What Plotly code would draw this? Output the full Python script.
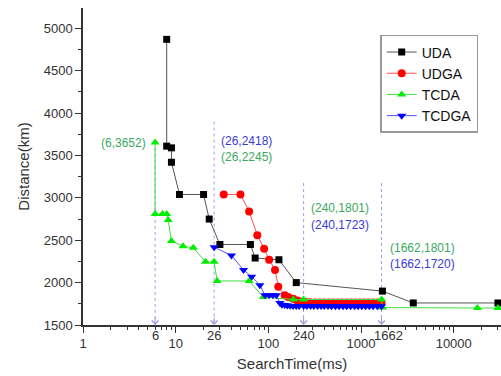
import math
import plotly.graph_objects as go

# ---------------- data ----------------
uda_x = [8, 8, 9, 9, 11, 20, 23, 30, 64, 72, 130, 200, 1700, 3660, 30000]
uda_y = [4870, 3610, 3590, 3420, 3040, 3040, 2750, 2450, 2450, 2290, 2270, 2000, 1900, 1760, 1760]

udga_x = [33, 50, 62, 76, 90, 102, 118, 128, 150, 164, 185, 205, 225, 250, 280, 320, 360,
          400, 450, 500, 560, 620, 700, 780, 870, 970, 1080, 1200, 1340, 1500, 1662]
udga_y = [3040, 3040, 2840, 2560, 2400, 2270, 2150, 1950, 1850, 1830, 1810, 1790, 1775, 1770,
          1768, 1766, 1765, 1765, 1765, 1765, 1765, 1765, 1765, 1765, 1765, 1765, 1765, 1765,
          1765, 1765, 1765]

tcda_x = [6, 6, 7.2, 8, 8.3, 9, 12, 15.5, 21, 26, 28, 62, 88, 186, 240, 1662, 1700, 18000, 30000]
tcda_y = [3652, 2810, 2810, 2810, 2740, 2490, 2430, 2410, 2245, 2245, 2020, 2020, 1830, 1801,
          1801, 1801, 1705, 1700, 1700]

tcdga_x = [26, 40, 54, 66, 81, 92, 102, 112, 122, 133, 140, 150, 160, 172, 185, 200, 215, 240,
           260, 285, 310, 340, 370, 400, 440, 480, 530, 580, 640, 700, 770, 850, 930, 1020,
           1120, 1230, 1350, 1500, 1662]
tcdga_y = [2418, 2320, 2150, 2070, 1970, 1850, 1850, 1850, 1850, 1760, 1740, 1735, 1730, 1728,
           1725, 1725, 1724, 1723, 1723, 1723, 1723, 1723, 1723, 1723, 1723, 1722, 1722, 1722,
           1722, 1721, 1721, 1721, 1721, 1720, 1720, 1720, 1720, 1720, 1720]

# reference markers (search time values) and the top of their dotted guide lines
mark_x = [6, 26, 240, 1662]
mark_top = [3590, 3900, 3175, 3175]

# point labels
label_text = ["(6,3652)", "(26,2418)", "(26,2245)", "(240,1801)", "(240,1723)",
              "(1662,1801)", "(1662,1720)"]
label_at = [6, 26, 26, 240, 240, 1662, 1662]
label_kind = ["TCDA", "TCDGA", "TCDA", "TCDA", "TCDGA", "TCDA", "TCDGA"]

x_ticks = [1, 10, 100, 1000, 10000]
y_ticks = [1500, 2000, 2500, 3000, 3500, 4000, 4500, 5000]

# ---------------- styling ----------------
FONT = "Liberation Sans, Arial, sans-serif"
AX = "#333333"
GUIDE = "#a898e0"
TXT_GREEN = "#3aa860"
TXT_BLUE = "#3a3ad8"

fig = go.Figure()

# dotted guide lines
for mx, top in zip(mark_x, mark_top):
    fig.add_trace(go.Scatter(x=[mx, mx], y=[top, y_ticks[0]], mode="lines",
                             line=dict(color=GUIDE, width=1, dash="dot"),
                             showlegend=False, hoverinfo="skip"))

series = [
    ("UDA", uda_x, uda_y, "#000000", "#555555", "square", 7),
    ("UDGA", udga_x, udga_y, "#ff0000", "#ff5050", "circle", 8),
    ("TCDA", tcda_x, tcda_y, "#00ee00", "#40e040", "triangle-up", 8),
    ("TCDGA", tcdga_x, tcdga_y, "#0000ff", "#5050ff", "triangle-down", 8),
]
for name, xs, ys, mc, lc, sym, sz in series:
    fig.add_trace(go.Scatter(x=xs, y=ys, name=name, mode="lines+markers",
                             line=dict(color=lc, width=1),
                             marker=dict(color=mc, symbol=sym, size=sz, line=dict(width=0))))

annotations = []
# arrow heads at the bottom of the guides
for mx in mark_x:
    annotations.append(dict(x=math.log10(mx), y=y_ticks[0], xref="x", yref="y",
                            ax=0, ay=-9, showarrow=True, arrowhead=4, arrowsize=1.3,
                            arrowwidth=1, arrowcolor=GUIDE, text=""))
# extra tick labels for the marked times
for mx in mark_x:
    annotations.append(dict(x=math.log10(mx), y=0, xref="x", yref="paper",
                            yanchor="top", yshift=-1, xshift=(7 if mx == 1662 else 0),
                            showarrow=False, text=str(mx),
                            font=dict(family=FONT, size=13, color=AX)))

# point labels: layout positions (pixel offsets from the marked time)
label_layout = {
    "(6,3652)": dict(y=3652, xanchor="right", xshift=-7),
    "(26,2418)": dict(y=3673, xanchor="left", xshift=5),
    "(26,2245)": dict(y=3485, xanchor="left", xshift=5),
    "(240,1801)": dict(y=2876, xanchor="left", xshift=5),
    "(240,1723)": dict(y=2679, xanchor="left", xshift=5),
    "(1662,1801)": dict(y=2404, xanchor="left", xshift=6),
    "(1662,1720)": dict(y=2219, xanchor="left", xshift=6),
}
for t, at, kind in zip(label_text, label_at, label_kind):
    lay = label_layout[t]
    annotations.append(dict(x=math.log10(at), y=lay["y"], xref="x", yref="y",
                            xanchor=lay["xanchor"], yanchor="middle", xshift=lay["xshift"],
                            showarrow=False, text=t,
                            font=dict(family=FONT, size=12,
                                      color=TXT_GREEN if kind == "TCDA" else TXT_BLUE)))

fig.update_layout(
    width=501, height=376,
    margin=dict(l=83, r=0, t=8, b=51),
    paper_bgcolor="white", plot_bgcolor="white",
    font=dict(family=FONT, color=AX),
    annotations=annotations,
    legend=dict(x=0.711, y=0.915, xanchor="left", yanchor="top",
                bgcolor="white", bordercolor="#999999", borderwidth=1.5,
                font=dict(family=FONT, size=14, color="#111111"),
                tracegroupgap=0, itemwidth=30),
    showlegend=True,
)

fig.update_xaxes(type="log", range=[0, 4.51], showgrid=False, zeroline=False,
                 showline=True, linecolor=AX, linewidth=1.5, automargin=False,
                 ticks="outside", ticklen=6, tickwidth=1.2, tickcolor=AX,
                 tickvals=x_ticks, ticktext=[str(v) for v in x_ticks],
                 tickfont=dict(family=FONT, size=13, color=AX),
                 minor=dict(ticks="outside", ticklen=3, tickcolor=AX, dtick="D1", showgrid=False),
                 title=dict(text="SearchTime(ms)", font=dict(family=FONT, size=15, color=AX),
                            standoff=8))
fig.update_yaxes(range=[1500, 5240], showgrid=False, zeroline=False,
                 showline=True, linecolor=AX, linewidth=1.5, automargin=False,
                 ticks="outside", ticklen=6, tickwidth=1.2, tickcolor=AX,
                 tickvals=y_ticks,
                 tickfont=dict(family=FONT, size=13, color=AX),
                 minor=dict(ticks="outside", ticklen=3, tickcolor=AX, dtick=250, showgrid=False),
                 title=dict(text="Distance(km)", font=dict(family=FONT, size=15, color=AX),
                            standoff=10))

fig.write_html("out.html", config={"displayModeBar": False},
               post_script="document.body.style.margin='0';")
